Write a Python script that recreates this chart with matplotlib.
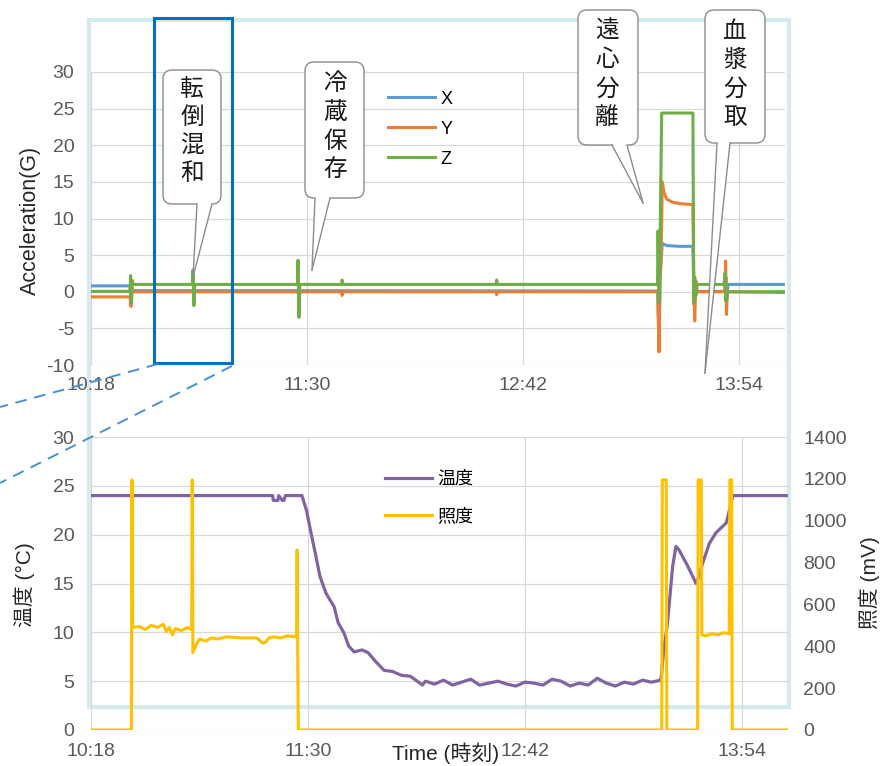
import matplotlib
matplotlib.use("Agg")
import matplotlib.pyplot as plt
from matplotlib.patches import FancyBboxPatch, Rectangle, Polygon

plt.rcParams['font.family'] = ['Liberation Sans', 'Noto Sans CJK JP', 'DejaVu Sans']
plt.rcParams['axes.unicode_minus'] = False

# ---------------- data (time = minutes after 10:18) ----------------
tick_pos = [0, 72, 144, 216]
tick_labels = ["10:18", "11:30", "12:42", "13:54"]

# acceleration X
acc_x_t = [0, 13.0, 13.3, 13.6, 14.0, 69.0, 69.4, 69.8, 188.9, 189.3, 189.7, 190.4, 192.0,
           196.0, 200.6, 201.0, 201.5, 202.0, 211.3, 211.6, 211.9, 212.3, 231.5]
acc_x = [0.8, 0.8, -1.0, 0.5, 0.15, 0.15, -0.6, 0.15, 0.1, -8.0, 2.0, 6.6, 6.3,
         6.2, 6.2, -1.8, 1.0, 0.05, 0.05, 2.0, -1.0, 1.0, 1.0]

# acceleration Y
acc_y_t = [0, 13.0, 13.3, 13.6, 14.0, 34.0, 34.3, 34.6, 69.0, 69.3, 69.6, 83.5, 83.7, 84.0,
           135.0, 135.2, 135.5, 188.9, 189.3, 189.6, 190.0, 190.4, 191.0, 192.0, 194.0, 197.0,
           200.6, 200.9, 201.2, 201.6, 202.0, 211.2, 211.5, 211.8, 212.1, 231.5]
acc_y = [-0.7, -0.7, -2.0, 0.4, 0.0, 0.0, -0.5, 0.0, 0.0, -0.8, 0.0, 0.0, -0.5, 0.0,
         0.0, -0.4, 0.0, 0.0, -8.2, 2.0, 5.0, 15.0, 13.5, 12.6, 12.2, 12.0,
         11.9, 2.0, -4.0, 1.5, 0.0, 0.0, 4.2, -3.1, 0.0, -0.1]

# acceleration Z
acc_z_t = [0, 13.0, 13.2, 13.5, 13.8, 14.1, 33.8, 34.0, 34.3, 34.6, 68.8, 69.0, 69.3, 69.6,
           83.5, 83.7, 84.0, 135.0, 135.2, 135.5, 188.8, 189.0, 189.3, 189.6, 190.2, 200.6,
           200.9, 201.2, 201.6, 202.0, 211.0, 211.3, 211.6, 212.0, 231.5]
acc_z = [0.05, 0.05, 2.2, -1.5, 1.5, 1.0, 1.0, 3.0, -1.9, 1.0, 1.0, 4.3, -3.5, 1.0,
         1.0, 1.6, 1.0, 1.0, 1.6, 1.0, 1.0, 8.3, -1.5, 5.0, 24.4, 24.4,
         -1.5, 2.0, -0.5, 1.0, 1.0, 2.5, -1.3, 0.0, 0.0]

# temperature (C)
temp_t = [0, 60.3, 60.5, 62.0, 62.3, 63.5, 64.0, 64.5, 70.0, 70.5, 71.5, 73.0, 74.5, 76.0,
          78.0, 80.7, 82.0, 84.0, 85.5, 87.3, 90.0, 92.0, 94.5, 97.3, 100.0, 103.0, 106.0,
          108.7, 110.0, 111.0,
          114, 117, 120, 123, 126, 129, 132, 135, 138, 141, 144, 147, 150, 153, 156, 159,
          162, 165, 168, 171, 174, 177, 180, 183, 186, 189,
          189.3, 190.0, 191.3, 193.0, 194.1, 195.2, 198.0, 200.8, 201.5, 203.0, 204.1,
          205.2, 207.4, 210.8, 211.3, 213.0, 231.5]
temp = [24.0, 24.0, 23.5, 23.5, 24.0, 23.5, 23.5, 24.0, 24.0, 23.5, 22.5, 20.2, 18.0, 15.7,
        14.0, 12.6, 11.0, 9.9, 8.6, 8.0, 8.2, 7.9, 7.0, 6.1, 6.0, 5.6, 5.5,
        4.9, 4.6, 5.0,
        4.7, 5.1, 4.6, 4.9, 5.2, 4.6, 4.8, 5.0, 4.7, 4.5, 4.9, 4.8, 4.6, 5.2, 5.0, 4.5,
        4.8, 4.6, 5.3, 4.8, 4.5, 4.9, 4.7, 5.1, 4.9, 5.1,
        5.6, 8.0, 10.9, 16.7, 18.8, 18.4, 16.8, 15.0, 15.5, 17.1, 18.1,
        19.1, 20.2, 21.2, 21.8, 24.0, 24.0]

# illuminance (mV)
light_t = [0, 13.4, 13.6, 13.8, 16, 18, 20, 22, 24, 25, 26, 27, 28, 30, 32, 33.4, 33.6, 33.8,
           35, 36, 38, 40, 42, 45, 50, 55, 57, 58, 59, 61, 63, 65, 68.2, 68.4, 68.6, 68.8,
           120, 189.4, 189.6, 190.9, 191.1, 201.3, 201.5, 202.5, 202.7, 204, 206, 208, 210,
           211.8, 212.0, 212.6, 212.8, 231.5]
light = [0, 0, 1195, 490, 495, 480, 500, 490, 505, 470, 490, 455, 485, 475, 490, 480, 1195, 370,
         410, 435, 425, 440, 435, 445, 440, 440, 415, 420, 440, 445, 440, 450, 445, 860, 350, 0,
         0, 0, 1195, 1195, 0, 0, 1195, 1195, 455, 450, 460, 455, 465,
         460, 1195, 1195, 0, 0]

# ---------------- figure ----------------
W, H = 880, 766
fig = plt.figure(figsize=(W / 100, H / 100), dpi=100)


def fx(x):
    return x / W


def fy(y):
    return 1 - y / H


grid_c = '#d9d9d9'
tick_c = '#595959'
lab_c = '#262626'
tick_fs = 14

# background frame
ax_bg = fig.add_axes([0, 0, 1, 1], zorder=0)
ax_bg.set_xlim(0, W)
ax_bg.set_ylim(H, 0)
ax_bg.axis('off')
ax_bg.add_patch(Rectangle((89, 20), 700, 687, fc='none', ec='#d5eaec', lw=3))

# ---- top: acceleration ----
ax1 = fig.add_axes([fx(91), fy(365), fx(785) - fx(91), fy(72) - fy(365)], zorder=1)
ax1.patch.set_alpha(0)
ax1.plot(acc_x_t, acc_x, color='#5B9BD5', lw=2.2, label='X')
ax1.plot(acc_y_t, acc_y, color='#ED7D31', lw=2.2, label='Y')
ax1.plot(acc_z_t, acc_z, color='#70AD47', lw=2.2, label='Z')
ax1.set_xlim(0, 231.3)
ax1.set_ylim(-10, 30)
ax1.set_yticks(range(-10, 31, 5))
ax1.set_xticks(tick_pos)
ax1.set_xticklabels(tick_labels)
ax1.grid(True, color=grid_c, lw=0.9)
ax1.set_axisbelow(True)
for s in ax1.spines.values():
    s.set_visible(False)
ax1.tick_params(length=0, labelsize=tick_fs, colors=tick_c, pad=12)
ax1.tick_params(axis='x', pad=9)
ax1.legend(loc='center left', bbox_to_anchor=(fx(388), fy(129)), bbox_transform=fig.transFigure,
           frameon=False, fontsize=13, handlelength=2.6, handletextpad=0.3, labelspacing=0.72,
           borderpad=0, borderaxespad=0)
fig.text(fx(30), fy(220), 'Acceleration(G)', rotation=90, ha='center', va='center',
         fontsize=15.5, color=lab_c)

# ---- bottom: temperature / illuminance ----
ax2 = fig.add_axes([fx(91), fy(730), fx(788) - fx(91), fy(437) - fy(730)], zorder=1)
ax2.patch.set_alpha(0)
l_temp, = ax2.plot(temp_t, temp, color='#8064A2', lw=2.3, label='温度')
ax2.set_xlim(0, 231.3)
ax2.set_ylim(0, 30)
ax2.set_yticks(range(0, 31, 5))
ax2.set_xticks(tick_pos)
ax2.set_xticklabels(tick_labels)
ax2.grid(True, color=grid_c, lw=0.9)
ax2.set_axisbelow(True)
for s in ax2.spines.values():
    s.set_visible(False)
ax2.tick_params(length=0, labelsize=tick_fs, colors=tick_c, pad=12)
ax2.tick_params(axis='x', pad=9)

ax2r = ax2.twinx()
l_light, = ax2r.plot(light_t, light, color='#FFC000', lw=2.2, label='照度')
ax2r.set_ylim(0, 1400)
ax2r.set_yticks(range(0, 1401, 200))
for s in ax2r.spines.values():
    s.set_visible(False)
ax2r.tick_params(length=0, labelsize=tick_fs, colors=tick_c, pad=11)
ax2r.legend(handles=[l_temp, l_light], loc='center left', bbox_to_anchor=(fx(385), fy(498)),
            bbox_transform=fig.transFigure, frameon=False, fontsize=13, handlelength=2.6,
            handletextpad=0.3, labelspacing=1.1, borderpad=0, borderaxespad=0)

fig.text(fx(24), fy(585), '温度 (°C)', rotation=90, ha='center', va='center',
         fontsize=15, color=lab_c)
fig.text(fx(869), fy(583), '照度 (mV)', rotation=90, ha='center', va='center',
         fontsize=15, color=lab_c)
fig.text(fx(446), fy(753), 'Time (時刻)', ha='center', va='center', fontsize=15, color=lab_c)

# ---------------- overlay: zoom box and callouts ----------------
ax_fg = fig.add_axes([0, 0, 1, 1], zorder=5)
ax_fg.set_xlim(0, W)
ax_fg.set_ylim(H, 0)
ax_fg.axis('off')

ax_fg.add_patch(Rectangle((154, 18), 78, 345, fc='none', ec='#0070C0', lw=2.2))
ax_fg.plot([158, 0], [364, 407], color='#4a90d9', lw=1.4, ls=(0, (6, 4)))
ax_fg.plot([232, 0], [366, 483], color='#4a90d9', lw=1.4, ls=(0, (6, 4)))


def callout(box, base, tip, text, cx, y0, step):
    x0, y0b, x1, y1 = box
    ax_fg.add_patch(FancyBboxPatch((x0, y0b), x1 - x0, y1 - y0b,
                                   boxstyle='round,pad=0,rounding_size=9',
                                   fc='white', ec='#8c8c8c', lw=1.0, zorder=10))
    ax_fg.add_patch(Polygon([(base[0], y1 - 1.5), tip, (base[1], y1 - 1.5)], closed=True,
                            fc='white', ec='none', zorder=11))
    ax_fg.plot([base[0], tip[0]], [y1, tip[1]], color='#8c8c8c', lw=1.0, zorder=12)
    ax_fg.plot([base[1], tip[0]], [y1, tip[1]], color='#8c8c8c', lw=1.0, zorder=12)
    for i, ch in enumerate(text):
        ax_fg.text(cx, y0 + i * step, ch, ha='center', va='center', fontsize=17,
                   family='Noto Sans CJK JP', color='#1a1a1a', zorder=13)


callout((163, 70, 221, 204), (197, 212), (193, 277), '転倒混和', 192, 89, 28)
callout((305, 62, 364, 198), (315, 330), (312, 270), '冷蔵保存', 335, 83, 29)
callout((578, 10, 638, 145), (612, 627), (643, 203), '遠心分離', 607, 31, 29)
callout((705, 10, 765, 143), (717, 730), (705, 373), '血漿分取', 735, 32, 28.5)

fig.savefig('out.png', dpi=100)
